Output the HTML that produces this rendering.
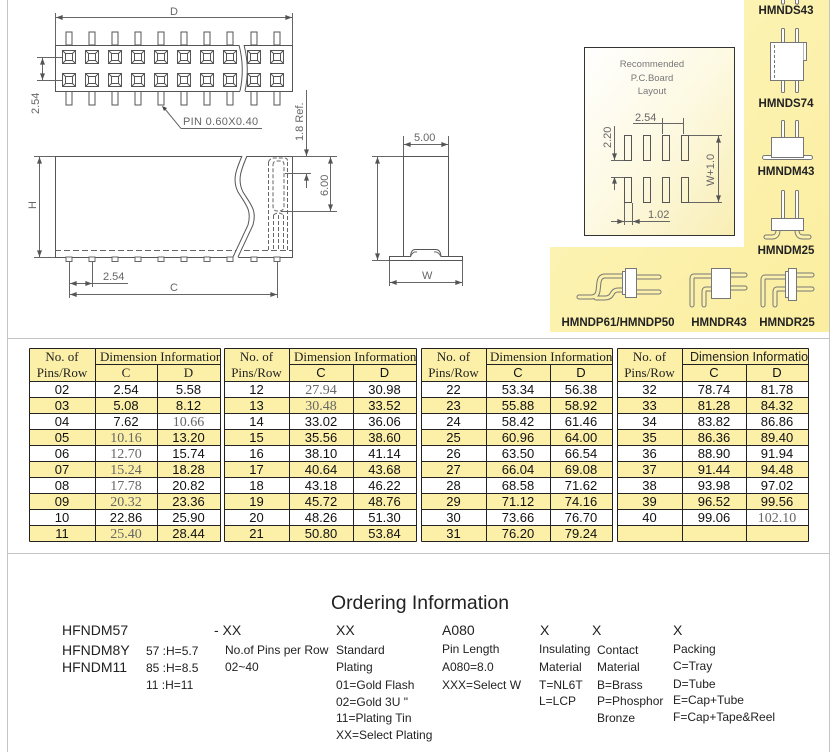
<!DOCTYPE html>
<html><head><meta charset="utf-8">
<style>
html,body{margin:0;padding:0;background:#fff;}
svg{display:block;}
.d{font-family:"Liberation Sans",sans-serif;font-size:11px;fill:#666;}
.s{font-family:"Liberation Sans",sans-serif;font-size:13px;fill:#111;text-anchor:middle;}
.f{font-family:"Liberation Serif",serif;font-size:14px;fill:#666;text-anchor:middle;}
.h{font-family:"Liberation Serif",serif;font-size:13px;fill:#222;text-anchor:middle;}
.hl{font-family:"Liberation Serif",serif;font-size:13px;fill:#222;}
.lb{font-family:"Liberation Sans",sans-serif;font-size:11.5px;font-weight:bold;fill:#222;text-anchor:middle;}
.o{font-family:"Liberation Sans",sans-serif;font-size:12px;fill:#222;}
.ob{font-family:"Liberation Sans",sans-serif;font-size:14px;fill:#222;}
.ln{fill:none;stroke:#666;stroke-width:1;}
</style></head><body>
<svg width="835" height="752" viewBox="0 0 835 752" xmlns="http://www.w3.org/2000/svg">
<defs>
<marker id="a" viewBox="0 0 8 6" refX="8" refY="3" markerWidth="7" markerHeight="5" orient="auto-start-reverse" markerUnits="userSpaceOnUse"><path d="M0 0L8 3L0 6z" fill="#555"/></marker>
<g id="q" fill="none" stroke="#555" stroke-width="1"><rect x="-6.5" y="-6.5" width="13" height="13"/><rect x="-3.5" y="-3.5" width="7" height="7"/><path d="M-6.5 -6.5L-3.5 -3.5M6.5 -6.5L3.5 -3.5M-6.5 6.5L-3.5 3.5M6.5 6.5L3.5 3.5"/></g>
<rect id="pt" x="-3" y="0" width="6" height="13" fill="#fff" stroke="#555"/>
<rect id="pb" x="-3" y="0" width="6" height="14" fill="#fff" stroke="#555"/>
<rect id="ps" x="-3" y="0" width="6" height="4.5" fill="#fff" stroke="#666"/>
<linearGradient id="yg" x1="0" y1="0" x2="1" y2="1"><stop offset="0" stop-color="#fdf5bd"/><stop offset="1" stop-color="#fbee9f"/></linearGradient>
<linearGradient id="pg" x1="0" y1="0" x2="1" y2="1"><stop offset="0" stop-color="#ffffff"/><stop offset="0.5" stop-color="#fdf9e2"/><stop offset="1" stop-color="#f8eeb4"/></linearGradient>
<clipPath id="c1"><rect x="95" y="348" width="125" height="16"/></clipPath>
<clipPath id="c2"><rect x="289" y="348" width="127" height="16"/></clipPath>
<clipPath id="c3"><rect x="486" y="348" width="126" height="16"/></clipPath>
<clipPath id="c4"><rect x="682" y="348" width="126" height="16"/></clipPath>
</defs>

<!-- frame lines -->
<path d="M7.5 0V752M829.5 0V752M7 338.5H830M7 553.5H830" stroke="#c4c4c4" stroke-width="1" fill="none"/>

<!-- ========== TOP VIEW ========== -->
<g class="ln">
<path d="M55.5 13V45M292.5 13V45"/>
<line x1="56" y1="17.5" x2="292" y2="17.5" marker-start="url(#a)" marker-end="url(#a)"/>
</g>
<text class="d" x="170" y="15">D</text>
<g>
<use href="#pt" x="69" y="32"/><use href="#pt" x="92" y="32"/><use href="#pt" x="115" y="32"/><use href="#pt" x="138" y="32"/><use href="#pt" x="161" y="32"/><use href="#pt" x="184" y="32"/><use href="#pt" x="207" y="32"/><use href="#pt" x="230" y="32"/><use href="#pt" x="254" y="32"/><use href="#pt" x="277" y="32"/>
<use href="#pb" x="69" y="91"/><use href="#pb" x="92" y="91"/><use href="#pb" x="115" y="91"/><use href="#pb" x="138" y="91"/><use href="#pb" x="161" y="91"/><use href="#pb" x="184" y="91"/><use href="#pb" x="207" y="91"/><use href="#pb" x="230" y="91"/><use href="#pb" x="254" y="91"/><use href="#pb" x="277" y="91"/>
</g>
<rect x="55.5" y="45.5" width="237" height="46" fill="#fff" stroke="#555"/>
<g>
<use href="#q" x="69" y="57"/><use href="#q" x="92" y="57"/><use href="#q" x="115" y="57"/><use href="#q" x="138" y="57"/><use href="#q" x="161" y="57"/><use href="#q" x="184" y="57"/><use href="#q" x="207" y="57"/><use href="#q" x="230" y="57"/><use href="#q" x="254" y="57"/><use href="#q" x="277" y="57"/>
<use href="#q" x="69" y="80"/><use href="#q" x="92" y="80"/><use href="#q" x="115" y="80"/><use href="#q" x="138" y="80"/><use href="#q" x="161" y="80"/><use href="#q" x="184" y="80"/><use href="#q" x="207" y="80"/><use href="#q" x="230" y="80"/><use href="#q" x="254" y="80"/><use href="#q" x="277" y="80"/>
</g>
<path d="M239 44 Q245 68 240 92 L245 92 Q250 68 244 44Z" fill="#fff"/>
<path d="M239 45 Q245 68 240 91M244 45 Q250 68 245 91" fill="none" stroke="#555"/>
<g class="ln">
<path d="M37 57.5H62M37 80.5H62"/>
<line x1="42.5" y1="58" x2="42.5" y2="80" marker-start="url(#a)" marker-end="url(#a)"/>
<path d="M181 128.5H262M181 128.5L165 109"/>
</g>
<path d="M162 106 L167 108 L164 111Z" fill="#444"/>
<text class="d" transform="translate(39,114) rotate(-90)">2.54</text>
<text class="d" x="183" y="125" style="letter-spacing:0.3px">PIN  0.60X0.40</text>
<text class="d" transform="translate(303,141) rotate(-90)">1.8  Ref.</text>

<!-- ========== SIDE VIEW ========== -->
<rect x="55.5" y="156.5" width="237" height="101" fill="#fff" stroke="#555"/>
<path d="M55 250.5H292" stroke="#666" stroke-dasharray="6 3" fill="none"/>
<path d="M242 155 C236 170 232 180 238 192 C246 205 252 210 248 225 L233 258 L238 258 L253 225 C257 210 251 205 243 192 C237 180 241 170 247 155Z" fill="#fff"/>
<path d="M242 156 C236 170 232 180 238 192 C246 205 252 210 248 225 L233 257M247 156 C241 170 237 180 243 192 C251 205 257 210 253 225 L238 257" fill="none" stroke="#555"/>
<g fill="none" stroke="#666" stroke-dasharray="4 2">
<path d="M268.5 162V250M287.5 162V250M273.5 215V250M278.5 215V250M283.5 215V250"/>
<path d="M268.5 162 Q270 158 274 158 L284 158 Q288 158 287.5 162"/>
<path d="M273 165 Q273 161 277 161 L281 161 Q284 161 284 165 L284 206 Q284 211 279 211 L277 211 Q273 211 273 206Z"/>
<path d="M273.5 215 Q278 211 283.5 215"/>
</g>
<g>
<use href="#ps" x="69" y="257"/><use href="#ps" x="92" y="257"/><use href="#ps" x="115" y="257"/><use href="#ps" x="138" y="257"/><use href="#ps" x="161" y="257"/><use href="#ps" x="184" y="257"/><use href="#ps" x="207" y="257"/><use href="#ps" x="230" y="257"/><use href="#ps" x="254" y="257"/><use href="#ps" x="277" y="257"/>
</g>
<g class="ln">
<path d="M34 156.5H55M34 257.5H55"/>
<line x1="39.5" y1="157" x2="39.5" y2="257" marker-start="url(#a)" marker-end="url(#a)"/>
<path d="M69.5 262V298M92.5 262V287M277.5 262V298"/>
<line x1="70" y1="283.5" x2="92" y2="283.5" marker-start="url(#a)" marker-end="url(#a)"/>
<path d="M92 283.5H128"/>
<line x1="70" y1="294.5" x2="277" y2="294.5" marker-start="url(#a)" marker-end="url(#a)"/>
<path d="M292 156.5H337M285 173.5H311M281 211.5H337"/>
<path d="M306.5 90V150"/>
<line x1="306.5" y1="140" x2="306.5" y2="156" marker-end="url(#a)"/>
<line x1="306.5" y1="188" x2="306.5" y2="174" marker-end="url(#a)"/>
<line x1="330.5" y1="157" x2="330.5" y2="211" marker-start="url(#a)" marker-end="url(#a)"/>
</g>
<text class="d" transform="translate(36,209) rotate(-90)">H</text>
<text class="d" x="103" y="280">2.54</text>
<text class="d" x="170" y="291">C</text>
<text class="d" transform="translate(328,196) rotate(-90)">6.00</text>

<!-- ========== END VIEW ========== -->
<rect x="403.5" y="156.5" width="45" height="100" fill="#fff" stroke="#555"/>
<path d="M389.5 260.5V256.5H410.5Q411 249.5 415 249.5H436Q440.5 249.5 441 256.5H462.5V260.5Z" fill="#fff" stroke="#555"/>
<path d="M410.5 256.5Q413 251 417 252M441 256.5Q438 251 434 252" fill="none" stroke="#666"/>
<g class="ln">
<path d="M403.5 136V156M448.5 136V156"/>
<line x1="404" y1="144.5" x2="448" y2="144.5" marker-start="url(#a)" marker-end="url(#a)"/>
<path d="M372 156.5H403M372 260.5H389"/>
<line x1="377.5" y1="157" x2="377.5" y2="260" marker-start="url(#a)" marker-end="url(#a)"/>
<path d="M389.5 261V286M462.5 261V286"/>
<line x1="390" y1="282.5" x2="462" y2="282.5" marker-start="url(#a)" marker-end="url(#a)"/>
</g>
<text class="d" x="414" y="141">5.00</text>
<text class="d" x="422" y="279">W</text>

<!-- ========== YELLOW PANEL ========== -->
<path d="M744 0H829V332H550V247H744Z" fill="url(#yg)"/>
<rect x="584.5" y="47.5" width="150" height="188" fill="url(#pg)" stroke="#333"/>
<g style="font-family:'Liberation Sans',sans-serif;font-size:9.5px;fill:#777;text-anchor:middle">
<text x="652" y="67">Recommended</text>
<text x="652" y="81">P.C.Board</text>
<text x="652" y="94">Layout</text>
</g>
<g fill="none" stroke="#555">
<rect x="624.5" y="135.5" width="7" height="25"/><rect x="643.5" y="135.5" width="7" height="25"/><rect x="662.5" y="135.5" width="7" height="25"/><rect x="681.5" y="135.5" width="7" height="25"/>
<rect x="624.5" y="177.5" width="7" height="25"/><rect x="643.5" y="177.5" width="7" height="25"/><rect x="662.5" y="177.5" width="7" height="25"/><rect x="681.5" y="177.5" width="7" height="25"/>
</g>
<g class="ln">
<path d="M633 123.5H684M662.5 118V134M683.5 118V134"/>
<path d="M611 160.5H624M611 177.5H624M614.5 126V160"/>
<line x1="614.5" y1="150" x2="614.5" y2="160" marker-end="url(#a)"/>
<line x1="614.5" y1="190" x2="614.5" y2="177" marker-end="url(#a)"/>
<path d="M689 135.5H722M689 202.5H722"/>
<line x1="718.5" y1="136" x2="718.5" y2="202" marker-start="url(#a)" marker-end="url(#a)"/>
<path d="M624.5 203V225M632.5 203V225M611 221.5H670"/>
<line x1="612" y1="221.5" x2="624" y2="221.5" marker-end="url(#a)"/>
<line x1="645" y1="221.5" x2="633" y2="221.5" marker-end="url(#a)"/>
</g>
<text class="d" x="635" y="121">2.54</text>
<text class="d" transform="translate(611,148) rotate(-90)">2.20</text>
<text class="d" transform="translate(714,186) rotate(-90)">W+1.0</text>
<text class="d" x="648" y="218">1.02</text>

<!-- right column icons -->
<g fill="#fff" stroke="#777" stroke-width="1">
<!-- HMNDS43 pin ends -->
<path d="M781.5 0V3.5Q783 5 784.5 3.5V0M795.5 0V3.5Q797 5 798.5 3.5V0"/>
<!-- HMNDS74 -->
<rect x="781.5" y="28.5" width="3" height="14" rx="1"/><rect x="795.5" y="28.5" width="3" height="14" rx="1"/>
<rect x="781.5" y="79.5" width="3" height="13" rx="1"/><rect x="795.5" y="79.5" width="3" height="13" rx="1"/>
<rect x="770.5" y="42.5" width="33" height="38"/>
<path d="M803.5 42.5H806.5V60.5H803.5"/>
<path d="M774.5 45V78" stroke-dasharray="3 2" fill="none"/>
<!-- HMNDM43 -->
<rect x="781.5" y="120.5" width="3" height="17" rx="1"/><rect x="795.5" y="120.5" width="3" height="17" rx="1"/>
<rect x="762.5" y="155.5" width="50" height="4" rx="2"/>
<rect x="771.5" y="137.5" width="32" height="20"/>
<!-- HMNDM25 -->
<rect x="781.5" y="190.5" width="3" height="28" rx="1"/><rect x="795.5" y="190.5" width="3" height="28" rx="1"/>
</g>
<path d="M778 230 Q778 237 772 237 L766 237M797 230 Q797 237 803 237 L809 237" fill="none" stroke="#777" stroke-width="5" stroke-linecap="round"/>
<path d="M778 230 Q778 237 772 237 L766 237M797 230 Q797 237 803 237 L809 237" fill="none" stroke="#fcf1ab" stroke-width="3" stroke-linecap="round"/>
<rect x="771.5" y="218.5" width="32" height="12" fill="#fff" stroke="#777"/>

<!-- bottom band icons -->
<g fill="none" stroke-linecap="round">
<path d="M622 276 H605 Q600 276 599 282 L598 291 Q597 297 591 297 H579 M622 290 H618 Q614 290 612 294 Q610 298 605 298 H596" stroke="#777" stroke-width="5"/>
<path d="M622 276 H605 Q600 276 599 282 L598 291 Q597 297 591 297 H579 M622 290 H618 Q614 290 612 294 Q610 298 605 298 H596" stroke="#fcf1ab" stroke-width="3"/>
<path d="M636 277 H659 M636 292 H659" stroke="#777" stroke-width="5"/>
<path d="M636 277 H659 M636 292 H659" stroke="#fcf1ab" stroke-width="3"/>
<path d="M711 276 H694 Q692 276 692 279 V305 M711 289 H706 Q704 289 704 292 V305" stroke="#777" stroke-width="5"/>
<path d="M711 276 H694 Q692 276 692 279 V305 M711 289 H706 Q704 289 704 292 V305" stroke="#fcf1ab" stroke-width="3"/>
<path d="M730 275 H745 M730 288 H745" stroke="#777" stroke-width="5"/>
<path d="M730 275 H745 M730 288 H745" stroke="#fcf1ab" stroke-width="3"/>
<path d="M786 277 H765 Q763 277 763 280 V305 M786 289 H777 Q775 289 775 292 V305" stroke="#777" stroke-width="5"/>
<path d="M786 277 H765 Q763 277 763 280 V305 M786 289 H777 Q775 289 775 292 V305" stroke="#fcf1ab" stroke-width="3"/>
<path d="M796 275 H812 M796 289 H812" stroke="#777" stroke-width="5"/>
<path d="M796 275 H812 M796 289 H812" stroke="#fcf1ab" stroke-width="3"/>
</g>
<g fill="#fff" stroke="#777">
<rect x="625.5" y="268.5" width="11" height="29"/><rect x="622.5" y="271.5" width="3" height="23"/>
<rect x="711.5" y="268.5" width="19" height="30"/>
<rect x="788.5" y="268.5" width="8" height="32"/><rect x="785.5" y="271.5" width="3" height="26"/>
</g>

<text class="lb" x="786" y="14">HMNDS43</text>
<text class="lb" x="786" y="107">HMNDS74</text>
<text class="lb" x="786" y="175">HMNDM43</text>
<text class="lb" x="786" y="254">HMNDM25</text>
<text class="lb" x="618" y="326">HMNDP61/HMNDP50</text>
<text class="lb" x="719" y="326">HMNDR43</text>
<text class="lb" x="787" y="326">HMNDR25</text>

<!-- ========== TABLE ========== -->
<rect x="29" y="348" width="779" height="33" fill="#fcf0a8"/>
<g fill="#fcf0a8">
<rect x="29" y="397" width="779" height="16"/><rect x="29" y="429" width="779" height="16"/><rect x="29" y="461" width="779" height="16"/><rect x="29" y="493" width="779" height="16"/><rect x="29" y="525" width="779" height="16"/>
</g>
<g fill="#fff">
<rect x="220" y="348" width="4" height="194"/><rect x="416" y="348" width="5" height="194"/><rect x="612" y="348" width="5" height="194"/>
</g>
<g transform="translate(0.5,0.5)" fill="none" stroke="#222" stroke-width="1">
<path d="M29 348H220M95 364H220M29 381H220M29 397H220M29 413H220M29 429H220M29 445H220M29 461H220M29 477H220M29 493H220M29 509H220M29 525H220M29 541H220M29 348V541M95 348V541M157 364V541M220 348V541"/>
<path d="M224 348H416M289 364H416M224 381H416M224 397H416M224 413H416M224 429H416M224 445H416M224 461H416M224 477H416M224 493H416M224 509H416M224 525H416M224 541H416M224 348V541M289 348V541M353 364V541M416 348V541"/>
<path d="M421 348H612M486 364H612M421 381H612M421 397H612M421 413H612M421 429H612M421 445H612M421 461H612M421 477H612M421 493H612M421 509H612M421 525H612M421 541H612M421 348V541M486 348V541M550 364V541M612 348V541"/>
<path d="M617 348H808M682 364H808M617 381H808M617 397H808M617 413H808M617 429H808M617 445H808M617 461H808M617 477H808M617 493H808M617 509H808M617 525H808M617 541H808M617 348V541M682 348V541M746 364V541M808 348V541"/>
</g>
<!-- headers -->
<text class="h" x="62" y="361">No. of</text><text class="h" x="62" y="377">Pins/Row</text>
<text class="h" x="256.5" y="361">No. of</text><text class="h" x="256.5" y="377">Pins/Row</text>
<text class="h" x="453.5" y="361">No. of</text><text class="h" x="453.5" y="377">Pins/Row</text>
<text class="h" x="649.5" y="361">No. of</text><text class="h" x="649.5" y="377">Pins/Row</text>
<g clip-path="url(#c1)"><text class="hl" x="100" y="361">Dimension Information</text></g>
<g clip-path="url(#c2)"><text class="hl" x="294" y="361">Dimension Information</text></g>
<g clip-path="url(#c3)"><text class="hl" x="490" y="361">Dimension Information</text></g>
<g clip-path="url(#c4)"><text x="690" y="361" style="font-family:'Liberation Sans',sans-serif;font-size:12.5px;fill:#222">Dimension Information</text></g>
<text class="h" x="126" y="377">C</text><text class="h" x="188.5" y="377">D</text>
<text class="s" x="321" y="377">C</text><text class="s" x="384.5" y="377">D</text>
<text class="s" x="518" y="377">C</text><text class="s" x="581" y="377">D</text>
<text class="s" x="714" y="377">C</text><text class="s" x="777" y="377">D</text>

<!-- G1 data -->
<text class="s" x="62" y="394">02</text><text class="s" x="126" y="394">2.54</text><text class="s" x="188.5" y="394">5.58</text>
<text class="s" x="62" y="410">03</text><text class="s" x="126" y="410">5.08</text><text class="s" x="188.5" y="410">8.12</text>
<text class="s" x="62" y="426">04</text><text class="s" x="126" y="426">7.62</text><text class="f" x="188.5" y="426">10.66</text>
<text class="s" x="62" y="442">05</text><text class="f" x="126" y="442">10.16</text><text class="s" x="188.5" y="442">13.20</text>
<text class="s" x="62" y="458">06</text><text class="f" x="126" y="458">12.70</text><text class="s" x="188.5" y="458">15.74</text>
<text class="s" x="62" y="474">07</text><text class="f" x="126" y="474">15.24</text><text class="s" x="188.5" y="474">18.28</text>
<text class="s" x="62" y="490">08</text><text class="f" x="126" y="490">17.78</text><text class="s" x="188.5" y="490">20.82</text>
<text class="s" x="62" y="506">09</text><text class="f" x="126" y="506">20.32</text><text class="s" x="188.5" y="506">23.36</text>
<text class="s" x="62" y="522">10</text><text class="s" x="126" y="522">22.86</text><text class="s" x="188.5" y="522">25.90</text>
<text class="s" x="62" y="538">11</text><text class="f" x="126" y="538">25.40</text><text class="s" x="188.5" y="538">28.44</text>
<!-- G2 data -->
<text class="s" x="256.5" y="394">12</text><text class="f" x="321" y="394">27.94</text><text class="s" x="384.5" y="394">30.98</text>
<text class="s" x="256.5" y="410">13</text><text class="f" x="321" y="410">30.48</text><text class="s" x="384.5" y="410">33.52</text>
<text class="s" x="256.5" y="426">14</text><text class="s" x="321" y="426">33.02</text><text class="s" x="384.5" y="426">36.06</text>
<text class="s" x="256.5" y="442">15</text><text class="s" x="321" y="442">35.56</text><text class="s" x="384.5" y="442">38.60</text>
<text class="s" x="256.5" y="458">16</text><text class="s" x="321" y="458">38.10</text><text class="s" x="384.5" y="458">41.14</text>
<text class="s" x="256.5" y="474">17</text><text class="s" x="321" y="474">40.64</text><text class="s" x="384.5" y="474">43.68</text>
<text class="s" x="256.5" y="490">18</text><text class="s" x="321" y="490">43.18</text><text class="s" x="384.5" y="490">46.22</text>
<text class="s" x="256.5" y="506">19</text><text class="s" x="321" y="506">45.72</text><text class="s" x="384.5" y="506">48.76</text>
<text class="s" x="256.5" y="522">20</text><text class="s" x="321" y="522">48.26</text><text class="s" x="384.5" y="522">51.30</text>
<text class="s" x="256.5" y="538">21</text><text class="s" x="321" y="538">50.80</text><text class="s" x="384.5" y="538">53.84</text>
<!-- G3 data -->
<text class="s" x="453.5" y="394">22</text><text class="s" x="518" y="394">53.34</text><text class="s" x="581" y="394">56.38</text>
<text class="s" x="453.5" y="410">23</text><text class="s" x="518" y="410">55.88</text><text class="s" x="581" y="410">58.92</text>
<text class="s" x="453.5" y="426">24</text><text class="s" x="518" y="426">58.42</text><text class="s" x="581" y="426">61.46</text>
<text class="s" x="453.5" y="442">25</text><text class="s" x="518" y="442">60.96</text><text class="s" x="581" y="442">64.00</text>
<text class="s" x="453.5" y="458">26</text><text class="s" x="518" y="458">63.50</text><text class="s" x="581" y="458">66.54</text>
<text class="s" x="453.5" y="474">27</text><text class="s" x="518" y="474">66.04</text><text class="s" x="581" y="474">69.08</text>
<text class="s" x="453.5" y="490">28</text><text class="s" x="518" y="490">68.58</text><text class="s" x="581" y="490">71.62</text>
<text class="s" x="453.5" y="506">29</text><text class="s" x="518" y="506">71.12</text><text class="s" x="581" y="506">74.16</text>
<text class="s" x="453.5" y="522">30</text><text class="s" x="518" y="522">73.66</text><text class="s" x="581" y="522">76.70</text>
<text class="s" x="453.5" y="538">31</text><text class="s" x="518" y="538">76.20</text><text class="s" x="581" y="538">79.24</text>
<!-- G4 data -->
<text class="s" x="649.5" y="394">32</text><text class="s" x="714" y="394">78.74</text><text class="s" x="777" y="394">81.78</text>
<text class="s" x="649.5" y="410">33</text><text class="s" x="714" y="410">81.28</text><text class="s" x="777" y="410">84.32</text>
<text class="s" x="649.5" y="426">34</text><text class="s" x="714" y="426">83.82</text><text class="s" x="777" y="426">86.86</text>
<text class="s" x="649.5" y="442">35</text><text class="s" x="714" y="442">86.36</text><text class="s" x="777" y="442">89.40</text>
<text class="s" x="649.5" y="458">36</text><text class="s" x="714" y="458">88.90</text><text class="s" x="777" y="458">91.94</text>
<text class="s" x="649.5" y="474">37</text><text class="s" x="714" y="474">91.44</text><text class="s" x="777" y="474">94.48</text>
<text class="s" x="649.5" y="490">38</text><text class="s" x="714" y="490">93.98</text><text class="s" x="777" y="490">97.02</text>
<text class="s" x="649.5" y="506">39</text><text class="s" x="714" y="506">96.52</text><text class="s" x="777" y="506">99.56</text>
<text class="s" x="649.5" y="522">40</text><text class="s" x="714" y="522">99.06</text><text class="f" x="777" y="522">102.10</text>

<!-- ========== ORDERING INFORMATION ========== -->
<text x="420" y="609" text-anchor="middle" textLength="178" lengthAdjust="spacingAndGlyphs" style="font-family:'Liberation Sans',sans-serif;font-size:19.5px;fill:#222">Ordering Information</text>

<text class="ob" x="62" y="635">HFNDM57</text>
<text class="ob" x="62" y="655">HFNDM8Y</text>
<text class="ob" x="62" y="672">HFNDM11</text>

<text class="o" x="146" y="655">57 :H=5.7</text>
<text class="o" x="146" y="672">85 :H=8.5</text>
<text class="o" x="146" y="689">11 :H=11</text>

<text class="ob" x="214" y="635">- XX</text>
<text class="o" x="225" y="654">No.of Pins per Row</text>
<text class="o" x="225" y="671">02~40</text>

<text class="ob" x="336" y="635">XX</text>
<text class="o" x="336" y="654">Standard</text>
<text class="o" x="336" y="671">Plating</text>
<text class="o" x="336" y="689">01=Gold Flash</text>
<text class="o" x="336" y="706">02=Gold 3U &quot;</text>
<text class="o" x="336" y="722">11=Plating Tin</text>
<text class="o" x="336" y="739">XX=Select Plating</text>

<text class="ob" x="442" y="635">A080</text>
<text class="o" x="442" y="653">Pin Length</text>
<text class="o" x="442" y="671">A080=8.0</text>
<text class="o" x="442" y="689">XXX=Select W</text>

<text class="ob" x="540" y="635">X</text>
<text class="o" x="539" y="653">Insulating</text>
<text class="o" x="539" y="671">Material</text>
<text class="o" x="539" y="689">T=NL6T</text>
<text class="o" x="539" y="705">L=LCP</text>

<text class="ob" x="592" y="635">X</text>
<text class="o" x="597" y="654">Contact</text>
<text class="o" x="597" y="671">Material</text>
<text class="o" x="597" y="689">B=Brass</text>
<text class="o" x="597" y="705">P=Phosphor</text>
<text class="o" x="597" y="722">Bronze</text>

<text class="ob" x="673" y="635">X</text>
<text class="o" x="673" y="653">Packing</text>
<text class="o" x="673" y="670">C=Tray</text>
<text class="o" x="673" y="688">D=Tube</text>
<text class="o" x="673" y="704">E=Cap+Tube</text>
<text class="o" x="673" y="721">F=Cap+Tape&amp;Reel</text>
</svg>
</body></html>
